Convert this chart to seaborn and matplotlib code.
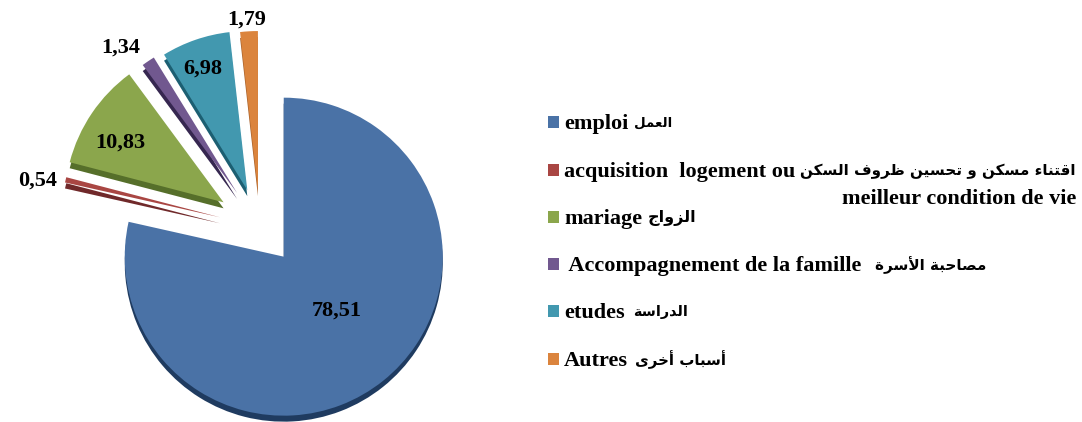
import seaborn as sns
import matplotlib.pyplot as plt

values = [78.51, 0.54, 10.83, 1.34, 6.98, 1.79]
latin_labels = ["emploi", "acquisition  logement ou", "mariage",
                " Accompagnement de la famille", "etudes", "Autres"]
arabic_labels = ["العمل", "اقتناء مسكن و تحسين ظروف السكن", "الزواج",
                 "مصاحبة الأسرة", "الدراسة", "أسباب أخرى"]
extra_line = "meilleur condition de vie"

colors = ["#4a72a6", "#a94643", "#8ba64c", "#71588f", "#4298af", "#db843d"]
side_colors = ["#1f3b60", "#70292a", "#566f2a", "#362750", "#1c5f72", "#a8622c"]

W, H = 1082, 422

# matplotlib has no arabic shaping, so pick the presentation forms by hand
four_forms = {"ب": 0xFE8F, "ت": 0xFE95, "ج": 0xFE9D, "ح": 0xFEA1, "خ": 0xFEA5,
              "س": 0xFEB1, "ص": 0xFEB9, "ظ": 0xFEC5, "ع": 0xFEC9, "ف": 0xFED1,
              "ق": 0xFED5, "ك": 0xFED9, "ل": 0xFEDD, "م": 0xFEE1, "ن": 0xFEE5,
              "ي": 0xFEF1}
two_forms = {"ا": 0xFE8D, "أ": 0xFE83, "ة": 0xFE93, "د": 0xFEA9, "ر": 0xFEAD,
             "ز": 0xFEAF, "و": 0xFEED, "ى": 0xFEEF}
lam_alef = {"أ": 0xFEF7, "ا": 0xFEFB}


def shape(text):
    out = []
    i = 0
    prev_joins = False
    while i < len(text):
        ch = text[i]
        nxt = text[i + 1] if i + 1 < len(text) else " "
        if ch == "ل" and nxt in lam_alef:
            out.append(chr(lam_alef[nxt] + (1 if prev_joins else 0)))
            prev_joins = False
            i += 2
            continue
        next_letter = nxt in four_forms or nxt in two_forms
        if ch in four_forms:
            base = four_forms[ch]
            if prev_joins and next_letter:
                form = base + 3
            elif prev_joins:
                form = base + 1
            elif next_letter:
                form = base + 2
            else:
                form = base
            out.append(chr(form))
            prev_joins = next_letter
        elif ch in two_forms:
            out.append(chr(two_forms[ch] + (1 if prev_joins else 0)))
            prev_joins = False
        elif ch == "ء":
            out.append(chr(0xFE80))
            prev_joins = False
        else:
            out.append(ch)
            prev_joins = False
        i += 1
    return "".join(reversed(out))


sns.set_theme(style="white")
fig = plt.figure(figsize=(W / 100, H / 100), dpi=100)
ax = fig.add_axes([0, 0, 1, 1])

cx, cy = 260, H - 227
radius = 159
explode = [38, 41, 44, 41, 39, 37]  # pie offsets these in data units, here pixels
no_edge = {"linewidth": 0}

# darker copy underneath gives the 3d edge
ax.pie(values, explode=explode, colors=sns.color_palette(side_colors),
       startangle=90, counterclock=False, radius=radius, center=(cx, cy - 6),
       wedgeprops=no_edge)
ax.pie(values, explode=explode, colors=sns.color_palette(colors),
       startangle=90, counterclock=False, radius=radius, center=(cx, cy),
       wedgeprops=no_edge)
ax.set_xlim(0, W)
ax.set_ylim(0, H)
ax.set_aspect("equal")
ax.axis("off")

serif = {"family": "Liberation Serif", "weight": "bold", "color": "black"}

value_pos = [(337, 311), (38, 181), (120, 143), (121, 48), (203, 69), (247, 20)]
for v, (x, y) in zip(values, value_pos):
    ax.text(x, H - y, f"{v:.2f}".replace(".", ","), fontsize=16, ha="center",
            va="center", **serif)

row_y = [122, 170, 217, 264, 311, 359]
arabic_x = [672, 1076, 696, 986, 688, 726]
arabic_size = [9.6, 10.9, 11.5, 10.9, 10.4, 10.8]
ax.scatter([553.5] * 6, [H - y for y in row_y], marker="s", s=70, c=colors,
           linewidths=0)
for latin, arabic, y, right, size in zip(latin_labels, arabic_labels, row_y,
                                         arabic_x, arabic_size):
    ax.text(564, H - y - 2, latin, fontsize=16, ha="left", va="center", **serif)
    ax.text(right, H - y - 1, shape(arabic), fontsize=size, ha="right", va="center",
            family="DejaVu Sans", weight="bold", color="black")
ax.text(1076, H - 199, extra_line, fontsize=16, ha="right", va="center", **serif)

fig.savefig("out.png", dpi=100, facecolor="white")
